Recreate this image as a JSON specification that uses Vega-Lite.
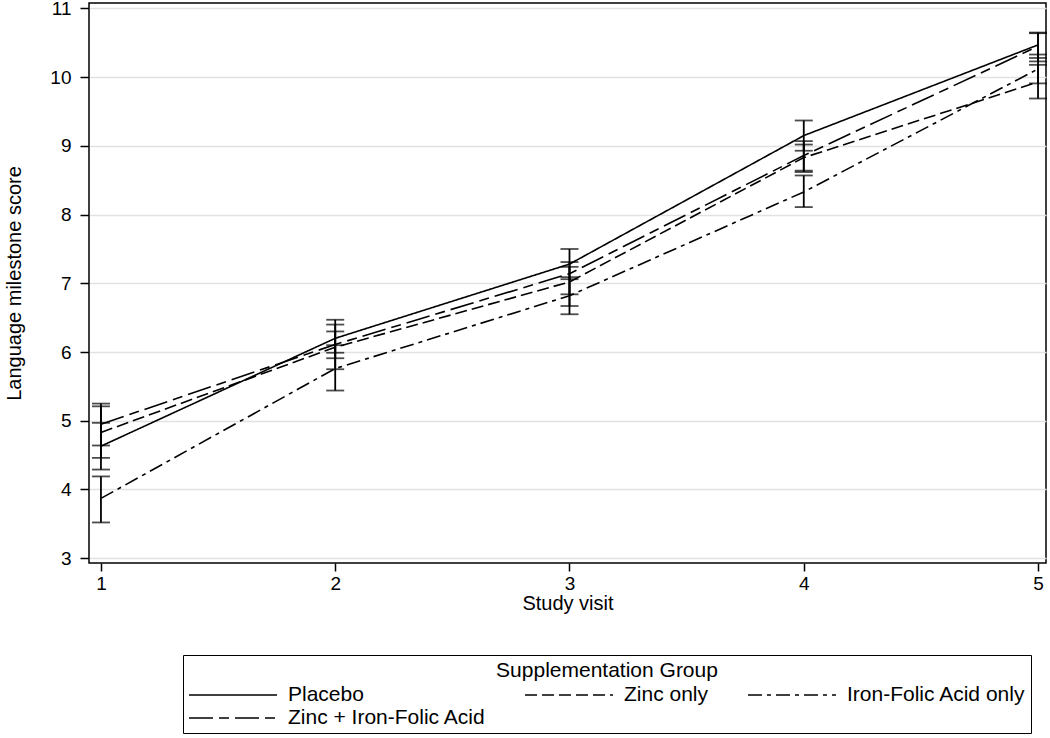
{
  "$schema": "https://vega.github.io/schema/vega-lite/v6.json",
  "width": 957,
  "height": 560,
  "autosize": {"type": "none"},
  "padding": {"left": 89, "top": 3, "right": 4, "bottom": 175},
  "background": "white",
  "config": {
    "view": {"stroke": "black", "strokeWidth": 1.5},
    "font": "Liberation Sans"
  },
  "data": {
    "values": [
      {"visit": 1, "group": "Placebo", "mean": 4.63, "lo": 4.29, "hi": 4.97},
      {"visit": 1, "group": "Zinc only", "mean": 4.83, "lo": 4.46, "hi": 5.21},
      {"visit": 1, "group": "Iron-Folic Acid only", "mean": 3.87, "lo": 3.52, "hi": 4.19},
      {"visit": 1, "group": "Zinc + Iron-Folic Acid", "mean": 4.95, "lo": 4.64, "hi": 5.25},
      {"visit": 2, "group": "Placebo", "mean": 6.2, "lo": 5.91, "hi": 6.47},
      {"visit": 2, "group": "Zinc only", "mean": 6.07, "lo": 5.75, "hi": 6.4},
      {"visit": 2, "group": "Iron-Folic Acid only", "mean": 5.76, "lo": 5.44, "hi": 6.1},
      {"visit": 2, "group": "Zinc + Iron-Folic Acid", "mean": 6.11, "lo": 5.99, "hi": 6.3},
      {"visit": 3, "group": "Placebo", "mean": 7.28, "lo": 7.06, "hi": 7.5},
      {"visit": 3, "group": "Zinc only", "mean": 7.02, "lo": 6.67, "hi": 7.24},
      {"visit": 3, "group": "Iron-Folic Acid only", "mean": 6.82, "lo": 6.55, "hi": 7.09},
      {"visit": 3, "group": "Zinc + Iron-Folic Acid", "mean": 7.14, "lo": 6.84, "hi": 7.31},
      {"visit": 4, "group": "Placebo", "mean": 9.15, "lo": 8.93, "hi": 9.37},
      {"visit": 4, "group": "Zinc only", "mean": 8.83, "lo": 8.62, "hi": 9.02},
      {"visit": 4, "group": "Iron-Folic Acid only", "mean": 8.33, "lo": 8.11, "hi": 8.57},
      {"visit": 4, "group": "Zinc + Iron-Folic Acid", "mean": 8.86, "lo": 8.64, "hi": 9.07},
      {"visit": 5, "group": "Placebo", "mean": 10.47, "lo": 10.28, "hi": 10.65},
      {"visit": 5, "group": "Zinc only", "mean": 9.93, "lo": 9.69, "hi": 10.18},
      {"visit": 5, "group": "Iron-Folic Acid only", "mean": 10.12, "lo": 9.91, "hi": 10.33},
      {"visit": 5, "group": "Zinc + Iron-Folic Acid", "mean": 10.45, "lo": 10.23, "hi": 10.64}
    ]
  },
  "layer": [
    {
      "mark": {"type": "line", "color": "black", "strokeWidth": 1.6},
      "encoding": {
        "x": {
          "field": "visit", "type": "quantitative", "title": "Study visit",
          "scale": {"domain": [0.949, 5.034], "nice": false, "zero": false},
          "axis": {
            "values": [1, 2, 3, 4, 5], "format": "d", "grid": false, "domain": false,
            "tickColor": "black", "tickSize": 8, "tickWidth": 1.5,
            "labelFontSize": 19, "labelColor": "black",
            "labelPadding": 3, "labelFlush": false,
            "titleFontSize": 20,
            "titleFontWeight": "normal", "titleColor": "black",
            "titleY": 40, "titleBaseline": "middle"
          }
        },
        "y": {
          "field": "mean", "type": "quantitative", "title": "Language milestone score",
          "scale": {"domain": [2.93, 11.08], "nice": false, "zero": false},
          "axis": {
            "values": [3, 4, 5, 6, 7, 8, 9, 10, 11], "format": "d", "grid": true, "gridColor": "#e2e2e2", "gridWidth": 1.5,
            "domain": false, "tickColor": "black", "tickSize": 9, "tickWidth": 1.5,
            "labelFontSize": 19, "labelColor": "black", "labelPadding": 9,
            "titleFontSize": 20, "titleFontWeight": "normal",
            "titleColor": "black", "titleX": -75, "titleY": 280, "titleBaseline": "middle"
          }
        },
        "strokeDash": {
          "field": "group", "type": "nominal",
          "scale": {
            "domain": ["Placebo", "Zinc only", "Iron-Folic Acid only", "Zinc + Iron-Folic Acid"],
            "range": [[1, 0], [12, 5], [14, 5, 4, 5], [24, 6, 10, 6]]
          },
          "legend": {
            "orient": "none", "legendX": 94, "legendY": 652,
            "direction": "horizontal", "columns": 3,
            "title": "Supplementation Group", "titleAnchor": "middle", "titleLimit": 0,
            "titleFontSize": 21, "titleFontWeight": "normal",
            "titleColor": "black", "titlePadding": 2,
            "labelFontSize": 21, "labelColor": "black", "labelLimit": 0,
            "symbolType": "M-1,0H7", "symbolSize": 484, "symbolStrokeWidth": 1.6,
            "symbolStrokeColor": "black", "symbolFillColor": "transparent",
            "labelOffset": 76, "columnPadding": 35, "rowPadding": 1,
            "strokeColor": "black", "padding": 5
          }
        }
      }
    },
    {
      "mark": {
        "type": "errorbar", "color": "black",
        "rule": {"strokeWidth": 1.8},
        "ticks": {"size": 18, "thickness": 1.8}
      },
      "encoding": {
        "x": {"field": "visit", "type": "quantitative", "title": "Study visit"},
        "y": {"field": "lo", "type": "quantitative", "title": "Language milestone score"},
        "y2": {"field": "hi"}
      }
    }
  ]
}
